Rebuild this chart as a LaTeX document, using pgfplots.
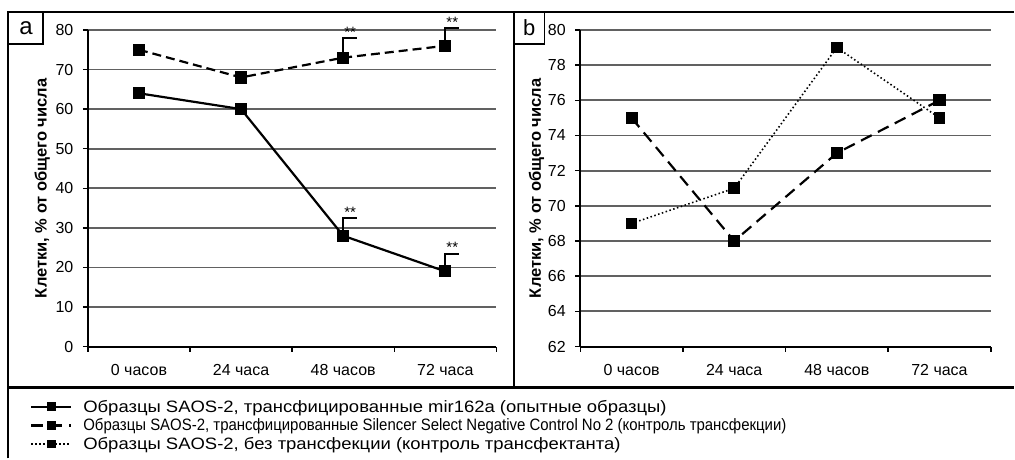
\documentclass[border=0pt]{standalone}
\usepackage{fontspec}
\setmainfont{Liberation Sans}
\newfontfamily\legfont{Liberation Sans}[FakeStretch=1.12]
\usepackage{graphicx}
\usepackage{pgfplots}
\pgfplotsset{compat=1.18}
\begin{document}
\begin{tikzpicture}[x=1pt,y=1pt]
\pgfplotsset{
  myaxis/.style={
    scale only axis, anchor=south west,
    clip=false,
    xmin=-0.5, xmax=3.5,
    xtick={-0.5,0.5,1.5,2.5,3.5},
    xticklabels={,,,,},
    extra x ticks={0,1,2,3},
    extra x tick labels={0 часов,24 часа,48 часов,72 часа},
    extra x tick style={major tick length=0pt},
    major tick length=5pt,
    tick align=outside,
    tick style={black, line width=1.5pt},
    axis x line*=bottom, axis y line*=left,
    ymajorgrids, grid style={black!62, line width=1.8pt},
    axis line style={line width=2pt, black},
    /pgf/number format/assume math mode=true,
    tick label style={font=\fontsize{16}{18}\selectfont},
    yticklabel style={xshift=-6pt},
    xticklabel style={yshift=-14pt},
    ylabel style={font=\bfseries\fontsize{16.5}{18}\selectfont},
  }
}
% panel a
\begin{axis}[myaxis, at={(88pt,112pt)}, width=409pt, height=317pt,
  ymin=0, ymax=80, ytick={0,10,...,80},
  ylabel={Клетки, \% от общего числа},
  ylabel style={at={(axis description cs:-0.112,0.5)}, anchor=center}]
\addplot[black, line width=2.2pt, mark=square*, mark size=5pt, mark options={solid}]
  coordinates {(0,64) (1,60) (2,28) (3,19)};
\addplot[black, line width=2.2pt, dash pattern=on 9pt off 5pt, mark=square*, mark size=5pt, mark options={solid}]
  coordinates {(0,75) (1,68) (2,73) (3,76)};
% significance brackets
\draw[line width=2pt] (axis cs:2,73) -- (axis cs:2,78) -- ([xshift=14pt]axis cs:2,78);
\node[font=\fontsize{15}{15}\selectfont] at ([xshift=7pt,yshift=6pt]axis cs:2,78) {**};
\draw[line width=2pt] (axis cs:3,76) -- (axis cs:3,80.5) -- ([xshift=14pt]axis cs:3,80.5);
\node[font=\fontsize{15}{15}\selectfont] at ([xshift=7pt,yshift=6pt]axis cs:3,80.5) {**};
\draw[line width=2pt] (axis cs:2,28) -- (axis cs:2,32.5) -- ([xshift=14pt]axis cs:2,32.5);
\node[font=\fontsize{15}{15}\selectfont] at ([xshift=7pt,yshift=6pt]axis cs:2,32.5) {**};
\draw[line width=2pt] (axis cs:3,19) -- (axis cs:3,23.5) -- ([xshift=14pt]axis cs:3,23.5);
\node[font=\fontsize{15}{15}\selectfont] at ([xshift=7pt,yshift=6pt]axis cs:3,23.5) {**};
\end{axis}
% panel b
\begin{axis}[myaxis, at={(581pt,112pt)}, width=411pt, height=317pt,
  ymin=62, ymax=80, ytick={62,64,...,80},
  ylabel={Клетки, \% от общего числа},
  ylabel style={at={(axis description cs:-0.107,0.5)}, anchor=center},
  legend style={draw=none, fill=none, inner sep=0pt,
    at={(axis description cs:-1.3406,-0.2492)}, anchor=west,
    font=\legfont\fontsize{16.5}{18}\selectfont, row sep=3pt,
    nodes={inner sep=1pt},
    /tikz/every odd column/.append style={column sep=10pt},
    legend cell align=left},
  legend image code/.code={\draw[mark repeat=2, mark phase=2, #1, mark size=3.5pt] plot coordinates {(0pt,0pt) (20pt,0pt) (40pt,0pt)};}]
\addlegendimage{black, line width=2pt, mark=square*, mark options={solid}}
\addlegendentry{Образцы SAOS-2, трансфицированные mir162a (опытные образцы)}
\addplot[black, line width=2.2pt, dash pattern=on 12pt off 7pt, mark=square*, mark size=5pt, mark options={solid}]
  coordinates {(0,75) (1,68) (2,73) (3,76)};
\addlegendentry{\scalebox{0.81}[1]{Образцы SAOS-2, трансфицированные Silencer Select Negative Control No 2 (контроль трансфекции)}}
\addplot[black, line width=1.6pt, dash pattern=on 1.5pt off 2.5pt, mark=square*, mark size=5pt, mark options={solid}]
  coordinates {(0,69) (1,71) (2,79) (3,75)};
\addlegendentry{Образцы SAOS-2, без трансфекции (контроль трансфектанта)}
\end{axis}
% frame
\draw[line width=2pt] (8,0) -- (8,447) -- (1015,447);
\draw[line width=2.5pt] (8,71) -- (1015,71);
\draw[line width=2pt] (515,71) -- (515,447);
\draw[line width=1.2pt] (8,447) rectangle (43,415);
\node[font=\fontsize{24}{24}\selectfont] at (26,431) {a};
\draw[line width=1.2pt] (515,447) rectangle (545,415);
\node[font=\fontsize{22}{22}\selectfont] at (530,431) {b};
\path (0,0) rectangle (1015,459);
\end{tikzpicture}
\end{document}
